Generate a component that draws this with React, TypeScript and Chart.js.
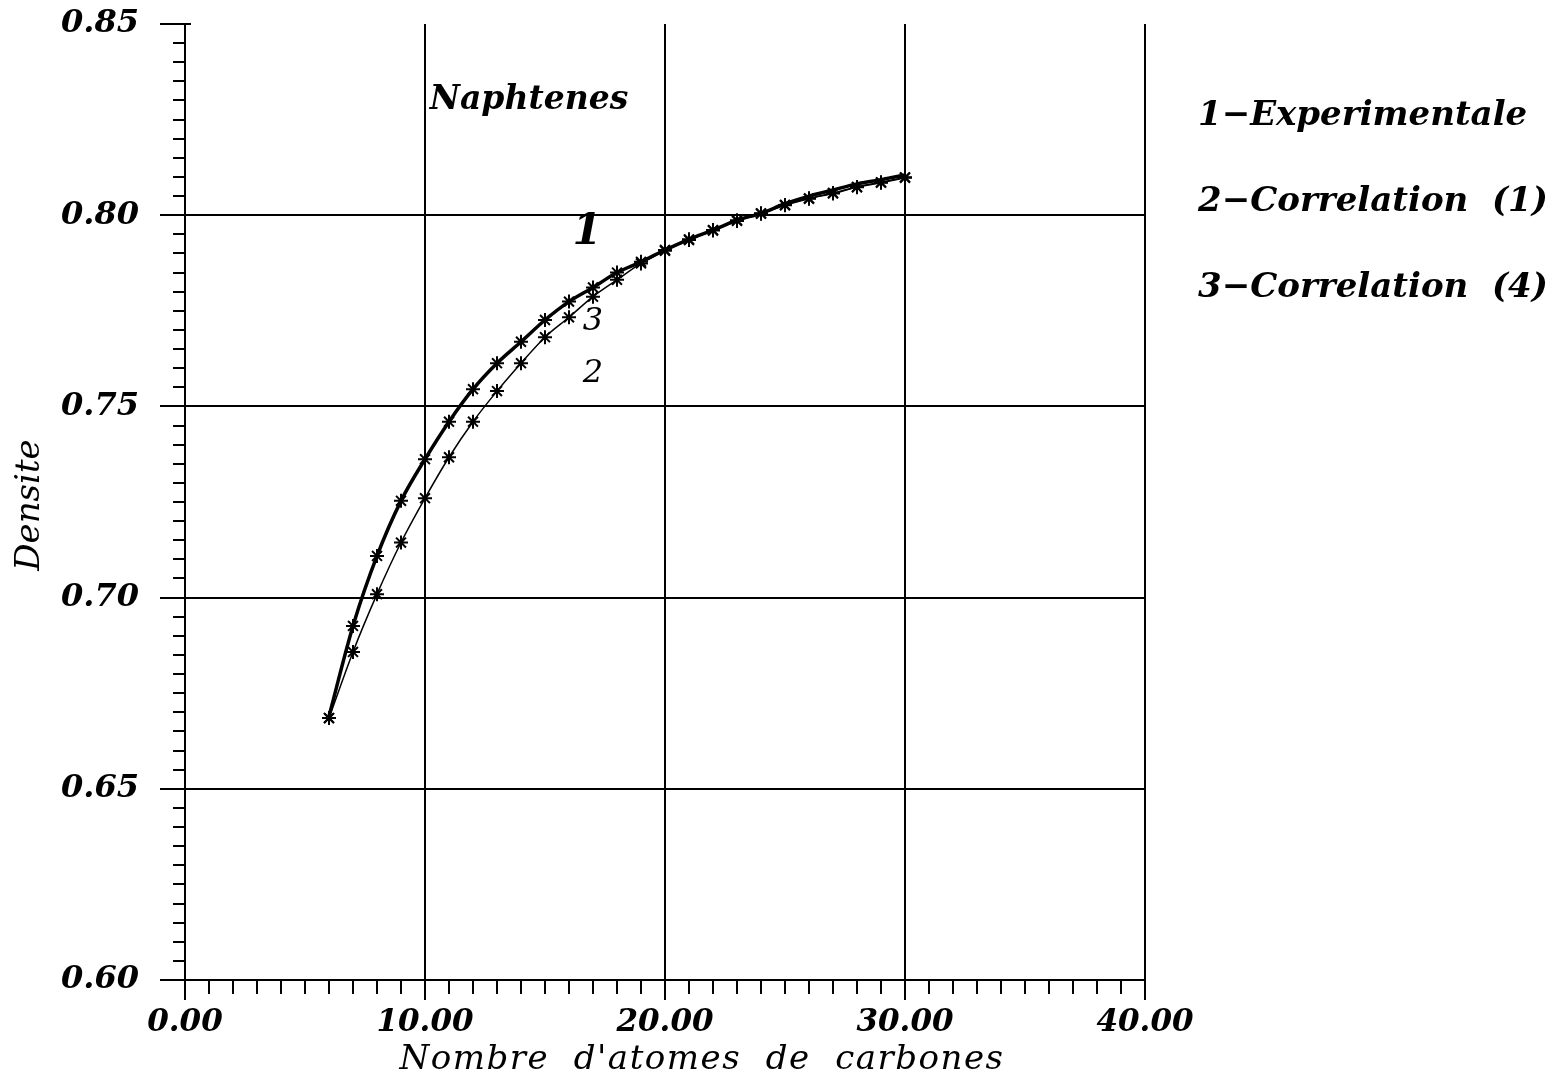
import React, { useEffect, useRef } from "react";
import { Chart, registerables } from "chart.js";

Chart.register(...registerables);

const carbons = [6, 7, 8, 9, 10, 11, 12, 13, 14, 15, 16, 17, 18, 19, 20, 21, 22, 23, 24, 25, 26, 27, 28, 29, 30];
const experimentale = [0.6690, 0.6926, 0.7109, 0.7253, 0.7362, 0.7460, 0.7545, 0.7613, 0.7669, 0.7726, 0.7774, 0.7811, 0.7850, 0.7878, 0.7909, 0.7937, 0.7961, 0.7987, 0.8005, 0.8030, 0.8050, 0.8066, 0.8082, 0.8093, 0.8105];
const correlation4 = [0.6685, 0.6926, 0.7109, 0.7253, 0.7362, 0.7460, 0.7545, 0.7613, 0.7669, 0.7726, 0.7774, 0.7811, 0.7850, 0.7878, 0.7909, 0.7937, 0.7961, 0.7987, 0.8005, 0.8027, 0.8044, 0.8058, 0.8074, 0.8086, 0.8099];
const correlation1 = [0.6685, 0.6858, 0.7009, 0.7144, 0.7260, 0.7367, 0.7460, 0.7540, 0.7613, 0.7681, 0.7733, 0.7787, 0.7831, 0.7874, 0.7907, 0.7935, 0.7960, 0.7985, 0.8004, 0.8026, 0.8043, 0.8057, 0.8073, 0.8085, 0.8098];

const legendLabels = ["1\u2212Experimentale", "2\u2212Correlation  (1)", "3\u2212Correlation  (4)"];
const xTitle = "Nombre  d'atomes  de  carbones";
const yTitle = "Densite";
const groupLabel = "Naphtenes";

const FONT = "'DejaVu Serif', 'Liberation Serif', serif";

const toPts = (ys: number[]) => carbons.map((x, i) => ({ x, y: ys[i] }));

const decorPlugin = {
  id: "decor",
  afterDraw(chart: any) {
    const ctx = chart.ctx as CanvasRenderingContext2D;
    const xs = chart.scales.x;
    const ys = chart.scales.y;
    const area = chart.chartArea;
    ctx.save();
    ctx.strokeStyle = "#000";
    ctx.lineWidth = 2;
    // y ticks
    for (let i = 0; i <= 50; i++) {
      const v = 0.6 + i * 0.005;
      const py = Math.round(ys.getPixelForValue(v));
      const len = i % 10 === 0 ? 25 : 12;
      ctx.beginPath();
      ctx.moveTo(area.left - len, py);
      ctx.lineTo(area.left + (i === 50 ? 6 : 0), py);
      ctx.stroke();
    }
    // x ticks
    for (let i = 0; i <= 40; i++) {
      const px = Math.round(xs.getPixelForValue(i));
      const len = i % 10 === 0 ? 20 : 14;
      ctx.beginPath();
      ctx.moveTo(px, area.bottom);
      ctx.lineTo(px, area.bottom + len);
      ctx.stroke();
    }
    // x axis extension to the left
    ctx.beginPath();
    ctx.moveTo(area.left - 25, area.bottom);
    ctx.lineTo(area.left, area.bottom);
    ctx.stroke();

    ctx.fillStyle = "#000";
    ctx.textBaseline = "middle";
    // group label
    ctx.font = `italic bold 33px ${FONT}`;
    ctx.textAlign = "left";
    ctx.fillText(groupLabel, xs.getPixelForValue(10.2), ys.getPixelForValue(0.8301));
    // curve labels
    ctx.textAlign = "center";
    ctx.font = `italic bold 42px ${FONT}`;
    ctx.fillText("1", xs.getPixelForValue(16.75), ys.getPixelForValue(0.7953));
    ctx.font = `italic 32px ${FONT}`;
    ctx.fillText("3", xs.getPixelForValue(17.0), ys.getPixelForValue(0.7721));
    ctx.fillText("2", xs.getPixelForValue(17.0), ys.getPixelForValue(0.7586));
    // legend
    ctx.textAlign = "left";
    ctx.font = `italic bold 34px ${FONT}`;
    legendLabels.forEach((t, i) => {
      ctx.fillText(t, 1198, 116 + i * 86);
    });
    // axis titles
    ctx.font = `italic 34px ${FONT}`;
    (ctx as any).letterSpacing = "1.5px";
    ctx.textAlign = "center";
    ctx.fillText(xTitle, 702, 1060);
    (ctx as any).letterSpacing = "0px";
    ctx.save();
    ctx.translate(30, 505);
    ctx.rotate(-Math.PI / 2);
    ctx.fillText(yTitle, 0, 0);
    ctx.restore();
    ctx.restore();
  },
};

export default function App() {
  const ref = useRef<HTMLCanvasElement | null>(null);
  useEffect(() => {
    if (!ref.current) return;
    const tickFont = { family: FONT, style: "italic" as const, weight: "bold" as const, size: 32 };
    const starDs = {
      showLine: true,
      borderColor: "#000",
      borderWidth: 1.5,
      pointStyle: "star",
      pointRadius: 7,
      pointBorderWidth: 2,
      pointBorderColor: "#000",
      cubicInterpolationMode: "monotone",
    };
    const chart = new Chart(ref.current, {
      type: "scatter",
      data: {
        datasets: [
          {
            label: legendLabels[0],
            data: toPts(experimentale),
            showLine: true,
            borderColor: "#000",
            borderWidth: 3.5,
            pointRadius: 0,
            cubicInterpolationMode: "monotone",
          },
          { label: legendLabels[2], data: toPts(correlation4), ...starDs },
          { label: legendLabels[1], data: toPts(correlation1), ...starDs },
        ],
      } as any,
      options: {
        animation: false,
        responsive: false,
        layout: { padding: { left: 0, top: 24, right: 403, bottom: 0 } },
        plugins: { legend: { display: false }, tooltip: { enabled: false } },
        scales: {
          x: {
            type: "linear",
            min: 0,
            max: 40,
            afterFit: (s: any) => {
              s.height = 99;
              s.paddingLeft = 0;
              s.paddingRight = 0;
            },
            ticks: {
              stepSize: 10,
              color: "#000",
              font: { ...tickFont, size: 31 },
              padding: 24,
              maxRotation: 0,
              callback: (v: any) => Number(v).toFixed(2),
            },
            border: { display: true, color: "#000", width: 2 },
            grid: {
              drawTicks: false,
              color: (c: any) => (c.tick && c.tick.value > 0 ? "#000" : "rgba(0,0,0,0)"),
              lineWidth: 2,
            },
          },
          y: {
            type: "linear",
            min: 0.6,
            max: 0.85,
            afterFit: (s: any) => {
              s.width = 185;
              s.paddingTop = 0;
              s.paddingBottom = 0;
            },
            ticks: {
              stepSize: 0.05,
              color: "#000",
              font: tickFont,
              padding: 46,
              callback: (v: any) => Number(v).toFixed(2),
            },
            border: { display: true, color: "#000", width: 2 },
            grid: {
              drawTicks: false,
              color: (c: any) => {
                const v = c.tick ? c.tick.value : 0;
                return v > 0.61 && v < 0.84 ? "#000" : "rgba(0,0,0,0)";
              },
              lineWidth: 2,
            },
          },
        },
      },
      plugins: [decorPlugin],
    });
    return () => chart.destroy();
  }, []);
  return (
    <div style={{ position: "absolute", left: 0, top: 0, width: 1548, height: 1079, background: "#fff" }}>
      <canvas ref={ref} width={1548} height={1079} style={{ display: "block" }} />
    </div>
  );
}
